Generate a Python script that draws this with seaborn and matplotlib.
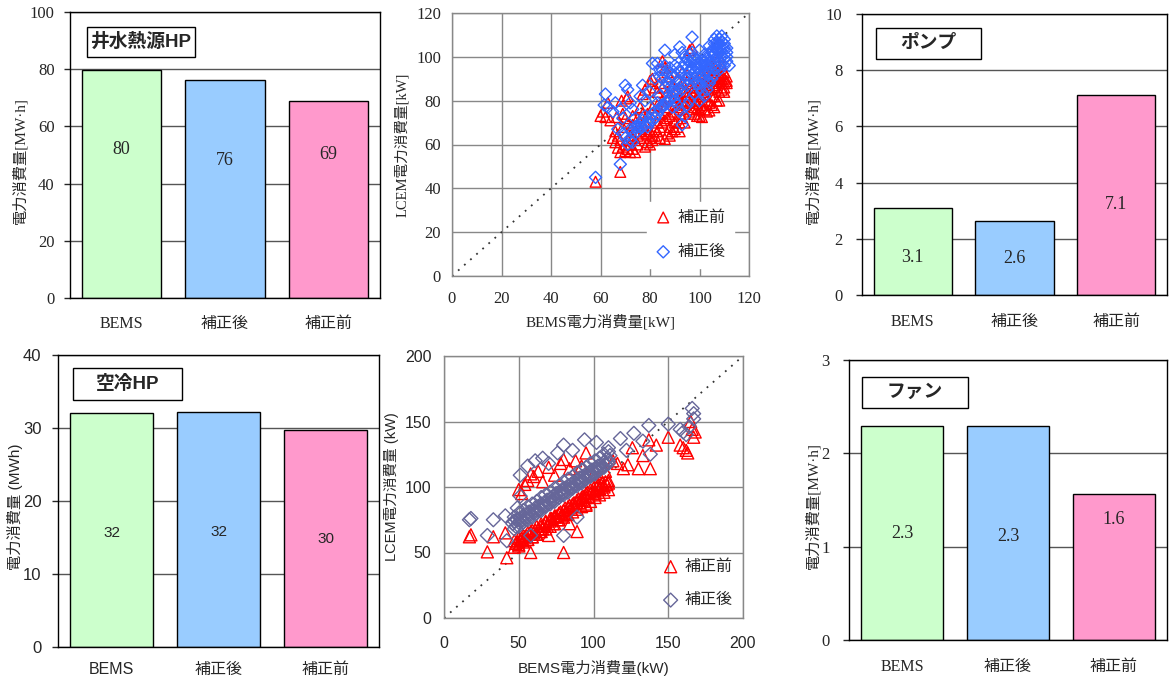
import numpy as np
import matplotlib
matplotlib.use("Agg")
import matplotlib.pyplot as plt
import seaborn as sns
from matplotlib.patches import Rectangle

sns.set_style("white")
SERIF = ['Liberation Serif', 'Noto Sans CJK JP']
SANS = ['Liberation Sans', 'Noto Sans CJK JP']
plt.rcParams['font.family'] = SERIF

# bar chart data
categories = ['BEMS', '補正後', '補正前']
bar_colors = ['#CCFFCC', '#99CCFF', '#FF99CC']
well_hp = [79.8, 76.1, 68.8]
pump = [3.08, 2.64, 7.13]
air_hp = [32.0, 32.2, 29.7]
fan = [2.29, 2.29, 1.56]

# scatter data (BEMS kW, LCEM kW)
top_before = [
    (58, 43), (68, 47.5), (60, 73), (62, 72.5), (61, 75), (63, 79), (64, 71), (66.5, 72.5),
    (68.5, 80), (70.5, 81), (71, 82), (69, 74), (70, 72), (65, 63), (66, 61), (67, 58.5),
    (68, 56.5), (69, 59), (70, 57), (72, 56.5), (73, 58), (74, 56.5), (75, 60), (76, 63),
    (74, 66), (73, 69), (72, 64), (71, 62), (77, 65), (78, 59), (79, 61), (80, 60),
    (81, 64), (80, 66), (78, 70), (77, 74), (76, 77), (77, 83), (78, 85), (80, 89),
    (81, 90), (82, 86), (83, 84), (84, 88), (85, 98), (86, 95), (87, 93), (88, 91),
    (85, 80), (86, 77), (84, 74), (83, 70), (82, 67), (84, 63), (86, 62.5), (87, 65),
    (88, 68), (89, 66), (90, 70), (91, 68), (92, 66), (93, 72), (94, 74), (92, 76),
    (90, 78), (89, 80), (88, 82), (91, 85), (93, 88), (95, 92), (96, 103), (97, 104),
    (95, 82), (96, 79), (97, 76), (98, 74), (99, 73), (100, 73), (101, 72.5), (102, 76),
    (103, 75), (104, 75.5), (105, 78), (106, 77), (107, 80), (100, 80), (102, 83), (104, 85),
    (106, 87), (108, 89), (109, 88), (110, 90), (111, 91), (110, 86), (111, 88), (109, 85),
    (108, 84), (107, 86), (105, 82), (103, 80), (101, 78), (99, 79), (98, 84), (97, 88),
    (99, 90), (101, 92), (103, 94), (105, 96), (107, 98), (108, 100), (106, 93), (104, 90),
    (102, 88), (100, 86), (96, 86), (94, 84), (92, 82), (90, 84),
    (109, 92), (110, 93), (111, 89), (110, 88), (109, 90), (108, 91), (107, 89), (106, 90),
    (105, 88), (104, 87), (103, 86), (102, 85), (101, 84), (100, 83), (99, 82), (98, 80),
    (97, 80), (96, 82), (95, 84), (94, 80), (93, 79), (92, 79), (91, 77), (90, 75),
    (89, 74), (88, 73), (87, 72), (86, 71), (85, 70), (84, 68), (83, 66), (82, 64),
    (81, 62), (80, 63), (79, 65), (78, 67), (76, 66), (75, 64), (74, 62), (73, 63),
    (72, 60), (71, 58), (70, 60), (68, 62), (67, 64), (66, 66), (69, 68), (71, 70),
    (73, 73), (75, 72), (79, 74), (81, 77), (83, 78), (85, 86), (87, 84), (89, 87),
    (91, 90), (93, 93), (95, 89), (97, 84), (99, 86), (101, 88), (103, 91), (105, 93),
    (107, 94), (109, 96), (106, 82), (108, 80), (110, 84), (104, 79), (102, 78), (100, 76),
    (98, 77), (96, 75), (94, 70), (92, 70), (90, 67), (88, 64),
]
top_after = [
    (58, 45), (68, 51), (62, 83), (61.5, 78), (63, 77), (65, 75), (66, 79), (68, 76),
    (67, 67), (69, 72), (70, 87), (71, 85), (72, 79), (73, 76), (74, 72), (72, 62),
    (71, 60), (73, 61), (74, 65), (75, 68), (76, 70), (77, 71), (78, 69), (79, 68),
    (80, 72), (81, 74), (82, 75), (77, 87), (76, 82), (78, 80), (80, 84), (82, 90),
    (81, 97), (83, 97), (84, 94), (86, 103), (85, 90), (87, 88), (88, 86), (89, 84),
    (90, 80), (91, 78), (92, 75), (93, 69), (94, 73), (95, 78), (96, 80), (88, 95),
    (90, 101), (92, 104.5), (93, 102), (94, 100), (96, 98), (97, 109), (95, 95), (97, 92),
    (98, 90), (99, 88), (100, 86), (101, 84), (102, 82), (103, 85), (104, 88), (105, 90),
    (106, 92), (107, 95), (108, 98), (109, 100), (110, 101), (111, 98), (112, 96), (108, 104),
    (107, 106), (106, 108), (107, 109.5), (109, 109.5), (110, 108), (108, 102), (105, 100), (104, 97),
    (103, 94), (102, 96), (101, 98), (100, 95), (99, 92), (98, 96), (97, 99), (100, 103),
    (102, 101), (96, 93), (94, 91), (92, 89), (90, 91), (88, 90), (86, 86), (84, 82),
    (83, 79), (85, 78), (87, 80), (89, 77), (91, 83), (93, 85), (95, 87), (98, 83),
    (100, 80), (103, 89), (106, 97), (110, 104), (105, 103), (104, 105),
    (110, 106), (109, 107), (108, 106), (107, 104), (106, 104), (105, 102), (104, 101), (103, 99),
    (102, 98), (101, 96), (100, 97), (99, 95), (98, 93), (97, 95), (96, 91), (95, 90),
    (94, 88), (93, 87), (92, 86), (91, 85), (90, 84), (89, 82), (88, 81), (87, 79),
    (86, 78), (85, 77), (84, 76), (83, 74), (82, 72), (81, 71), (80, 70), (79, 70),
    (78, 73), (77, 68), (76, 68), (75, 66), (74, 68), (73, 66), (72, 67), (70, 63),
    (69, 65), (111, 102), (111, 100), (110, 99), (109, 97), (108, 96), (107, 100), (106, 101),
    (105, 98), (104, 95), (103, 96), (102, 93), (101, 91), (100, 90), (99, 97), (98, 99),
    (97, 102), (96, 101), (95, 99), (94, 97), (93, 95), (92, 93), (91, 95), (90, 96),
    (89, 92), (87, 93), (86, 96), (84, 91), (85, 94), (111, 104), (109, 104), (108, 108),
    (107, 103), (106, 106), (110, 96), (108, 94), (106, 95), (104, 92), (102, 90), (100, 88),
]
bottom_before = [
    (17, 62), (18, 63.5), (29, 50.5), (33, 62), (41, 65), (42, 46), (48, 57), (49, 58),
    (50, 55), (51, 60), (52, 61), (53, 59), (54, 62), (55, 63), (56, 60), (57, 64),
    (58, 50), (58, 66), (59, 62), (60, 65), (61, 67), (62, 64), (63, 68), (64, 66),
    (65, 70), (66, 68), (67, 71), (68, 73), (69, 70), (70, 63), (71, 74), (72, 76),
    (73, 72), (74, 77), (75, 78), (76, 75), (77, 80), (78, 81), (79, 78), (80, 50),
    (80, 82), (81, 84), (82, 80), (83, 85), (84, 72), (84, 86), (85, 83), (86, 87),
    (87, 88), (88, 85), (89, 66), (89, 90), (90, 91), (91, 88), (92, 92), (93, 93),
    (94, 90), (95, 86), (95, 95), (96, 96), (97, 93), (98, 98), (99, 97), (100, 99),
    (101, 95), (102, 100), (103, 101), (104, 98), (105, 102), (106, 103), (107, 100), (108, 104),
    (109, 102), (110, 105), (50, 98), (52, 95), (54, 102), (56, 105), (58, 110), (60, 108),
    (63, 112), (66, 104), (70, 115), (74, 109), (78, 118), (80, 121), (84, 114), (88, 120),
    (92, 116), (95, 126), (100, 110), (104, 108), (108, 112), (113, 120), (116, 118), (120, 114),
    (123, 117), (126, 130), (130, 114), (133, 124), (137, 136), (138, 114), (142, 132), (150, 138),
    (158, 132), (160, 130), (162, 128), (163, 126), (165, 150), (166, 144), (167, 138), (168, 142),
    (47, 54), (47, 59), (50, 56), (50, 61), (53, 58), (53, 63), (56, 60), (56, 65),
    (59, 62), (59, 67), (62, 64), (62, 70), (65, 66), (65, 72), (68, 68), (68, 74),
    (71, 70), (71, 76), (74, 72), (74, 78), (77, 75), (77, 80), (80, 77), (80, 82),
    (83, 79), (83, 84), (86, 81), (86, 86), (89, 83), (89, 88), (92, 85), (92, 90),
    (95, 87), (95, 92), (98, 89), (98, 95), (101, 92), (101, 97), (104, 94), (104, 99),
    (107, 96), (107, 101), (110, 98), (110, 103),
]
bottom_after = [
    (17, 75), (18, 76), (29, 63), (33, 75), (41, 78), (42, 59), (46, 72), (47, 74),
    (48, 70), (49, 75), (50, 73), (51, 76), (52, 74), (53, 78), (54, 76), (55, 79),
    (56, 77), (57, 81), (58, 79), (59, 82), (60, 80), (61, 84), (62, 82), (63, 85),
    (64, 83), (65, 87), (66, 85), (67, 88), (68, 86), (69, 90), (70, 88), (71, 91),
    (72, 89), (73, 93), (74, 91), (75, 95), (76, 93), (77, 96), (78, 94), (79, 98),
    (80, 96), (81, 99), (82, 97), (83, 101), (84, 99), (85, 102), (86, 100), (87, 104),
    (88, 102), (89, 105), (90, 103), (91, 107), (92, 105), (93, 108), (94, 106), (95, 110),
    (96, 108), (97, 111), (98, 109), (99, 113), (100, 111), (101, 114), (102, 112), (103, 116),
    (104, 114), (105, 117), (106, 115), (107, 119), (108, 117), (109, 121), (110, 120), (111, 124),
    (80, 63), (89, 77), (58, 63), (49, 84), (51, 93), (51, 109), (56, 116), (61, 120),
    (66, 122), (70, 118), (76, 126), (80, 132), (86, 128), (94, 136), (102, 134), (110, 130),
    (118, 137), (122, 128), (127, 141), (133, 135), (137, 147), (138, 125), (150, 148), (158, 144),
    (160, 142), (162, 140), (164, 146), (166, 160), (167, 156), (167, 152),
    (47, 68), (47, 77), (50, 70), (50, 80), (53, 73), (53, 82), (56, 75), (56, 85),
    (59, 77), (59, 87), (62, 80), (62, 89), (65, 82), (65, 92), (68, 85), (68, 94),
    (71, 87), (71, 96), (74, 89), (74, 99), (77, 92), (77, 101), (80, 94), (80, 104),
    (83, 96), (83, 106), (86, 99), (86, 108), (89, 101), (89, 111), (92, 103), (92, 113),
    (95, 106), (95, 115), (98, 108), (98, 118), (101, 110), (101, 120), (104, 113), (104, 122),
    (107, 115), (107, 125), (110, 118), (110, 127),
]

W, H = 1169, 679
fig = plt.figure(figsize=(W / 100, H / 100), dpi=100)


def rect(l, t, r, b):
    return [l / W, 1 - b / H, (r - l) / W, (b - t) / H]


def bar_panel(ax, values, top, step, title, box, label_frac, fmt, ylabel, fam, ylab_x, xpad, ypad,
              valsize):
    sns.barplot(x=categories, y=values, hue=categories, palette=bar_colors, legend=False,
                width=0.77, edgecolor='black', linewidth=1.0, saturation=1, ax=ax)
    ax.set_xlim(-0.5, 2.5)
    ax.set_ylim(0, top)
    ax.set_yticks(np.arange(0, top + step / 2, step))
    ax.yaxis.grid(True, color='#555555', linewidth=1.0)
    ax.set_axisbelow(True)
    ax.set_xticks([0.5, 1.5], minor=True)
    ax.tick_params(axis='x', which='major', length=0, pad=xpad, labelsize=11.5)
    ax.tick_params(axis='x', which='minor', direction='in', length=5, width=1, color='black')
    ax.tick_params(axis='y', left=True, length=4, direction='out', width=1, labelsize=12, pad=ypad)
    for lab in ax.get_xticklabels() + ax.get_yticklabels():
        lab.set_family(fam)
    for s in ax.spines.values():
        s.set_visible(True)
        s.set_color('black')
        s.set_linewidth(1.0)
    ax.set_xlabel('')
    ax.set_ylabel(ylabel, family=fam, fontsize=11)
    ax.yaxis.set_label_coords(ylab_x, 0.48)
    for i, v in enumerate(values):
        ax.text(i, v * label_frac[i], fmt.format(v), ha='center', va='center',
                fontsize=valsize, family=fam)
    x0, y0, w, h = box
    ax.add_patch(Rectangle((x0, y0), w, h, transform=ax.transAxes, facecolor='white',
                           edgecolor='black', lw=1, zorder=5))
    ax.text(x0 + w / 2, y0 + h / 2, title, transform=ax.transAxes, ha='center', va='center',
            fontsize=13.5, fontweight='bold', family=SANS, zorder=6)


def scatter_panel(ax, before, after, lim, step, after_color, fam, sizes, xlabel, ylabel,
                  lab_pos, pads, ticksize, anchor, frame):
    bx, by = zip(*before)
    axx, ayy = zip(*after)
    ax.axline((0, 0), slope=1, color='#333333', linestyle=(0, (1, 3.5)), linewidth=1.3, zorder=2)
    sns.scatterplot(x=list(bx), y=list(by), marker='^', s=sizes[0], color='red',
                    facecolor='none', edgecolor='red', linewidth=1.0, label='補正前', ax=ax, zorder=3)
    sns.scatterplot(x=list(axx), y=list(ayy), marker='D', s=sizes[1], color=after_color,
                    facecolor='none', edgecolor=after_color, linewidth=1.0, label='補正後', ax=ax, zorder=3)
    ax.set_xlim(0, lim)
    ax.set_ylim(0, lim)
    ticks = np.arange(0, lim + 1, step)
    ax.set_xticks(ticks)
    ax.set_yticks(ticks)
    ax.grid(True, color='#888888', linewidth=1.0)
    ax.set_axisbelow(True)
    ax.tick_params(axis='x', length=0, labelsize=ticksize, pad=pads[0])
    ax.tick_params(axis='y', length=0, labelsize=ticksize, pad=pads[1])
    for lab in ax.get_xticklabels() + ax.get_yticklabels():
        lab.set_family(fam)
    for s in ax.spines.values():
        s.set_visible(True)
        s.set_color('#888888')
        s.set_linewidth(1.0)
    ax.set_xlabel(xlabel, family=fam, fontsize=11)
    ax.set_ylabel(ylabel, family=fam, fontsize=10.5)
    ax.yaxis.set_label_coords(lab_pos[0], 0.5)
    ax.xaxis.set_label_coords(0.5, lab_pos[1])
    leg = ax.legend(loc='lower right', bbox_to_anchor=anchor, frameon=frame, fancybox=False,
                    handletextpad=0.4, handlelength=1.0, labelspacing=1.15, borderpad=0.5,
                    prop={'family': fam, 'size': 11.5})
    if frame:
        leg.get_frame().set_edgecolor('white')
        leg.get_frame().set_facecolor('white')
        leg.get_frame().set_alpha(1)


ax1 = fig.add_axes(rect(70, 12, 380, 298))
bar_panel(ax1, well_hp, 100, 20, '井水熱源HP', (0.055, 0.843, 0.348, 0.105),
          [0.65, 0.63, 0.73], '{:.0f}', '電力消費量[MW·h]', SERIF, -0.139, 13, 7, 13)

ax2 = fig.add_axes(rect(452, 13, 749, 276))
scatter_panel(ax2, top_before, top_after, 120, 20, '#3366FF', SERIF, (60, 38),
              'BEMS電力消費量[kW]', 'LCEM電力消費量[kW]', (-0.145, -0.145), (11, 8), 12,
              (0.975, 0.0), True)

ax3 = fig.add_axes(rect(862, 14, 1167, 295))
bar_panel(ax3, pump, 10, 2, 'ポンプ', (0.046, 0.84, 0.344, 0.11),
          [0.435, 0.49, 0.45], '{:.1f}', '電力消費量[MW·h]', SERIF, -0.138, 14, 10, 13)

ax4 = fig.add_axes(rect(58, 355, 379, 647))
bar_panel(ax4, air_hp, 40, 10, '空冷HP', (0.047, 0.846, 0.34, 0.11),
          [0.49, 0.49, 0.5], '{:.0f}', '電力消費量 (MWh)', SANS, -0.109, 11, 8, 11)

ax5 = fig.add_axes(rect(444, 356, 743, 618))
scatter_panel(ax5, bottom_before, bottom_after, 200, 50, '#666699', SANS, (75, 50),
              'BEMS電力消費量(kW)', 'LCEM電力消費量 (kW)', (-0.15, -0.16), (13, 9), 11.5,
              (1.02, -0.02), False)

ax6 = fig.add_axes(rect(849, 360, 1167, 640))
bar_panel(ax6, fan, 3, 1, 'ファン', (0.041, 0.829, 0.333, 0.111),
          [0.5, 0.485, 0.83], '{:.1f}', '電力消費量[MW·h]', SERIF, -0.091, 14, 10, 13)

fig.savefig('out.png', dpi=100)
